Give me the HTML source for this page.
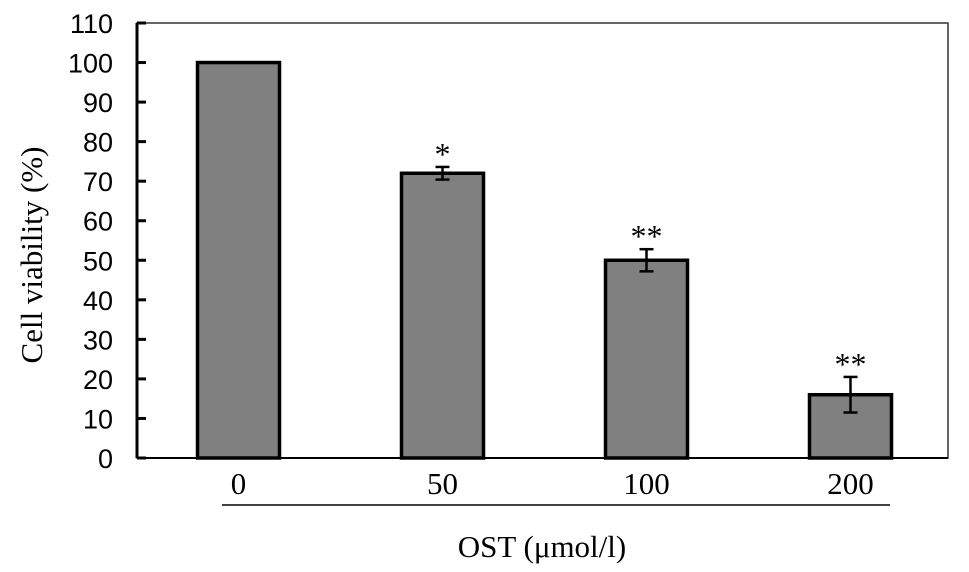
<!DOCTYPE html>
<html><head><meta charset="utf-8"><style>
body{margin:0;background:#fff}
svg{display:block}
.t{font-family:"Liberation Sans",sans-serif;font-size:27px}
.s{font-family:"Liberation Serif",serif;font-size:31px}
.st{font-family:"Liberation Serif",serif;font-size:32px}
</style></head><body>
<svg id="c" width="969" height="572"></svg>
<script>
const categories=["0","50","100","200"];
const values=[100,72,50,16];
const errors=[0,1.6,2.8,4.5];
const stars=["","*","**","**"];
const yTicks=[0,10,20,30,40,50,60,70,80,90,100,110];
const NS="http://www.w3.org/2000/svg";
const svg=document.getElementById('c');
const x0=137,x1=948,yB=458,yT=23;
const y=v=>yB-(v/110)*(yB-yT);
const cx=i=>238.5+i*204;
function el(t,a,p){const e=document.createElementNS(NS,t);for(const k in a)e.setAttribute(k,a[k]);(p||svg).appendChild(e);return e;}
const frame=el('rect',{x:x0,y:yT,width:x1-x0,height:yB-yT,fill:'none',stroke:'#333','stroke-width':1.5});


const ax=el('line',{x1:x0,y1:yT,x2:x0,y2:yB,stroke:'#000','stroke-width':3});


const bx=el('line',{x1:x0,y1:yB,x2:x1,y2:yB,stroke:'#000','stroke-width':2});


yTicks.forEach(v=>{
 const tk=el('line',{x1:x0,y1:y(v),x2:x0+9,y2:y(v),stroke:'#000','stroke-width':3});
 
 
 const t=el('text',{x:x0-24,y:y(v)+10,'text-anchor':'end',class:'t'});t.textContent=v;
 
 
});
categories.forEach((c,i)=>{
 const w=82,X=cx(i)-w/2;
 const r=el('rect',{x:X,y:y(values[i]),width:w,height:yB-y(values[i]),fill:'#808080',stroke:'#000','stroke-width':3.5});
 
 
 if(errors[i]>0){
  const g=el('g',{stroke:'#000','stroke-width':2.5});
  
  
  const a=y(values[i]+errors[i]),b=y(values[i]-errors[i]);
  el('line',{x1:cx(i),y1:a,x2:cx(i),y2:b},g);
  el('line',{x1:cx(i)-7,y1:a,x2:cx(i)+7,y2:a},g);
  el('line',{x1:cx(i)-7,y1:b,x2:cx(i)+7,y2:b},g);
 }
 if(stars[i]){
  const s=el('text',{x:cx(i),y:y(values[i]+errors[i])-2,'text-anchor':'middle',class:'st'});s.textContent=stars[i];
  
  
 }
 const l=el('text',{x:cx(i),y:494,'text-anchor':'middle',class:'s'});l.textContent=c;
 
 
});
const ul=el('line',{x1:222,y1:505,x2:890,y2:505,stroke:'#000','stroke-width':1.5});


const xt=el('text',{x:542,y:557,'text-anchor':'middle',class:'s','xml:space':'preserve'});xt.textContent="OST  (μmol/l)";


const yt=el('text',{x:0,y:0,'text-anchor':'middle',class:'s',transform:'translate(42,255) rotate(-90)'});yt.textContent="Cell viability (%)";


</script>
</body></html>
